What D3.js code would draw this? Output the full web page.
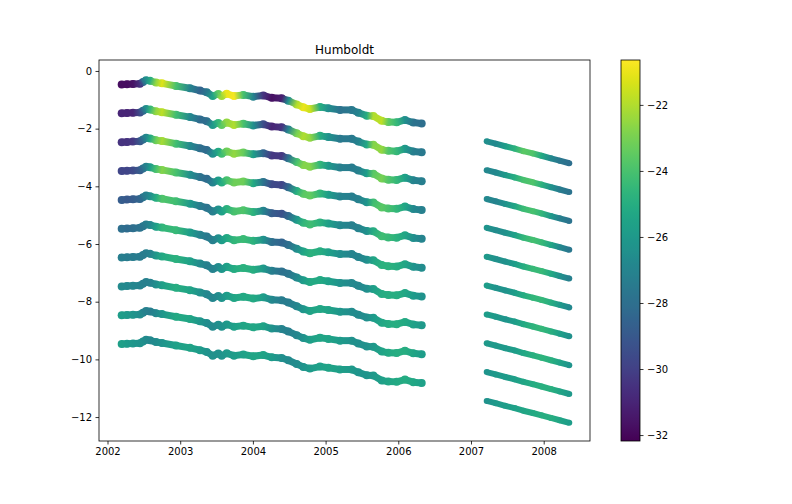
<!DOCTYPE html>
<html>
<head>
<meta charset="utf-8">
<script src="https://cdn.jsdelivr.net/npm/d3@7"></script>
<style>
  html, body { margin: 0; background: #fff; }
  svg { display: block; }
  text { font-family: "DejaVu Sans", sans-serif; fill: #000; }
</style>
</head>
<body>
<div id="chart"></div>
<script>
// first campaign, 2002-2006: shared time axis and the top row's depth trace
const yearsA = [2002.195,2002.268,2002.351,2002.447,2002.488,2002.530,2002.585,2002.667,2002.750,2002.942,
  2003.135,2003.272,2003.365,2003.447,2003.524,2003.571,2003.640,2003.740,2003.868,2004.006,
  2004.143,2004.259,2004.396,2004.487,2004.602,2004.693,2004.785,2004.923,2005.037,2005.198,
  2005.359,2005.450,2005.566,2005.657,2005.772,2005.863,2005.978,2006.092,2006.206,2006.322];
const depthA = [-0.47,-0.46,-0.45,-0.44,-0.38,-0.32,-0.34,-0.40,-0.43,-0.52,
  -0.60,-0.68,-0.74,-0.87,-0.80,-0.87,-0.79,-0.87,-0.83,-0.89,
  -0.85,-0.93,-0.95,-1.03,-1.16,-1.26,-1.32,-1.25,-1.29,-1.35,
  -1.35,-1.45,-1.55,-1.56,-1.73,-1.77,-1.78,-1.70,-1.79,-1.82];

// second campaign, 2007-2008
const yearsB = [2007.216,2007.340,2007.470,2007.600,2007.720,2007.850,2007.970,2008.100,2008.220,2008.352];
const depthB = [-2.44,-2.52,-2.61,-2.69,-2.78,-2.86,-2.94,-3.03,-3.11,-3.20];

// each row sits one unit below the previous one
const rowOffsets = [0,1,2,3,4,5,6,7,8,9];

// temperature along each row, top to bottom
const tempsA = [
  [-31.8,-31.8,-31.6,-30.5,-28,-26.5,-25,-22.5,-21.2,-24,-27,-28.5,-27.5,-25.5,-23.5,-22.3,-21,-20.8,-24,-27,-30.5,-31.7,-31.2,-26.5,-22,-21,-21.5,-25,-26.5,-27.8,-27.5,-27,-25,-22,-21.8,-23.5,-24.5,-26.5,-27.8,-28],
  [-31,-31,-31,-29.5,-28,-26.5,-24.5,-22.5,-21.8,-24.2,-26.8,-28.2,-28,-26,-24.5,-23.5,-22.5,-22,-24,-26.5,-29.5,-31,-30.5,-27,-23,-22,-22.5,-25,-26.3,-27.5,-27.5,-27,-25.3,-22.8,-22.5,-23.8,-24.5,-26,-27.3,-27.5],
  [-30.5,-30.5,-30.3,-29,-27.8,-26.8,-25.2,-23.2,-22.2,-24.2,-26.8,-28,-28.2,-26.5,-25.2,-24.2,-23.2,-22.5,-23.3,-25.8,-28.5,-30.3,-30.3,-27.8,-24,-22.8,-22.8,-24.6,-26,-27.2,-27.4,-27.2,-25.8,-23.6,-23,-23.8,-24.5,-25.6,-27,-27.3],
  [-29.8,-29.8,-29.6,-28.8,-27.8,-27,-25.8,-24,-22.8,-24,-26.5,-27.8,-28.2,-27,-25.8,-25,-24,-23.2,-23.2,-25.2,-27.8,-29.6,-29.8,-28.3,-25,-23.6,-23.4,-24.6,-25.8,-27,-27.3,-27.2,-26.2,-24.2,-23.6,-24,-24.6,-25.4,-26.8,-27.2],
  [-28.8,-29,-28.8,-28.4,-27.6,-27.2,-26.5,-25,-23.8,-24.2,-26,-27.4,-27.8,-27.2,-26.3,-25.6,-24.8,-24,-23.8,-24.8,-27,-28.8,-29.3,-28.3,-26,-24.6,-24.2,-24.8,-25.7,-26.8,-27.2,-27.1,-26.4,-25,-24.2,-24.4,-24.8,-25.4,-26.5,-27],
  [-28,-28.2,-28,-27.8,-27.6,-27.3,-26.8,-25.6,-24.6,-24.4,-25.8,-27,-27.5,-27.2,-26.5,-25.8,-25.2,-24.6,-24.3,-24.8,-26.4,-28,-28.5,-28,-26.6,-25.4,-24.8,-25,-25.6,-26.5,-27,-27,-26.5,-25.4,-24.8,-24.8,-25,-25.4,-26.2,-26.6],
  [-27.3,-27.4,-27.4,-27.4,-27.4,-27.3,-27,-26,-25.2,-24.8,-25.6,-26.7,-27.2,-27.1,-26.6,-26.1,-25.6,-25.1,-24.8,-25,-26,-27.3,-27.9,-27.7,-26.8,-25.8,-25.2,-25.2,-25.6,-26.3,-26.8,-26.9,-26.5,-25.7,-25.1,-25,-25,-25.3,-25.9,-26.3],
  [-26.7,-26.8,-26.9,-27,-27.2,-27.2,-27.1,-26.5,-25.7,-25,-25.5,-26.4,-26.9,-26.9,-26.6,-26.2,-25.8,-25.4,-25.2,-25.2,-25.8,-26.8,-27.4,-27.4,-26.9,-26.1,-25.5,-25.3,-25.5,-26.1,-26.6,-26.7,-26.5,-25.9,-25.3,-25.1,-25,-25.2,-25.6,-26],
  [-25.8,-26,-26.2,-26.6,-27,-27.2,-27.3,-26.8,-26.1,-25.2,-25.4,-26.1,-26.6,-26.7,-26.5,-26.3,-26,-25.6,-25.4,-25.3,-25.5,-26.3,-27,-27.2,-26.9,-26.3,-25.7,-25.4,-25.5,-25.9,-26.4,-26.5,-26.4,-26,-25.5,-25.2,-25,-25,-25.4,-25.8],
  [-25.7,-25.9,-26.1,-26.3,-26.5,-26.7,-26.8,-26.6,-26.2,-25.6,-25.5,-25.9,-26.3,-26.4,-26.4,-26.2,-26,-25.8,-25.6,-25.4,-25.5,-25.9,-26.5,-26.7,-26.6,-26.2,-25.9,-25.6,-25.5,-25.7,-26,-26.2,-26.2,-26,-25.7,-25.4,-25.2,-25.1,-25.3,-25.6]
];
const tempsB = [
  [-26.5,-26.8,-25.8,-24.8,-23.6,-23.8,-25.2,-26.8,-27.6,-28],
  [-26.8,-26.8,-26,-25,-24,-23.8,-24.8,-26.3,-27.4,-27.8],
  [-26.8,-27,-26.3,-25.4,-24.3,-24,-24.6,-26,-27.2,-27.8],
  [-26.2,-26.6,-26.4,-25.6,-24.6,-24.1,-24.4,-25.4,-26.8,-27.6],
  [-26,-26.4,-26.4,-25.8,-25,-24.4,-24.4,-25.2,-26.4,-27.2],
  [-25.8,-26.2,-26.3,-25.8,-25.1,-24.6,-24.5,-25,-26,-26.8],
  [-25.8,-26,-26.2,-25.8,-25.2,-24.7,-24.5,-24.9,-25.7,-26.4],
  [-26,-26,-26,-25.8,-25.3,-24.9,-24.7,-24.9,-25.5,-26.2],
  [-26.2,-26,-25.9,-25.7,-25.4,-25.1,-24.9,-24.9,-25.4,-26],
  [-26.3,-26,-25.8,-25.6,-25.4,-25.2,-25,-25,-25.4,-25.8]
];

const xTicks = [2002,2003,2004,2005,2006,2007,2008];
const yTicks = [0,-2,-4,-6,-8,-10,-12];
const cTicks = [-22,-24,-26,-28,-30,-32];
const xLimits = [2001.883, 2008.637];
const yLimits = [-12.83, 0.38];
const cLimits = [-32.18, -20.64];

const width = 792, height = 504;
const plot = { left: 99, right: 590, top: 60, bottom: 441 };
const bar = { left: 621, right: 640 };

const svg = d3.select('#chart').append('svg').attr('width', width).attr('height', height);
const defs = svg.append('defs');

const x = d3.scaleLinear().domain(xLimits).range([plot.left, plot.right]);
const y = d3.scaleLinear().domain(yLimits).range([plot.bottom, plot.top]);
const c = d3.scaleSequential(d3.interpolateViridis).domain(cLimits);
const cy = d3.scaleLinear().domain(cLimits).range([plot.bottom, plot.top]);

let gradId = 0;

// one row: dots on every sample, gradient segments laid over them so only the bumps show
function drawRow(g, years, depth, temps, offset, lineW, r){
  const pts = years.map((yr, i) => ({ px: x(yr), py: y(depth[i] - offset), t: temps[i] }));
  g.selectAll(null).data(pts).join('circle')
    .attr('cx', d => d.px).attr('cy', d => d.py).attr('r', r)
    .attr('fill', d => c(d.t));
  d3.pairs(pts).forEach(([a, b]) => {
    const id = 'seg' + (gradId++);
    const lg = defs.append('linearGradient').attr('id', id)
      .attr('gradientUnits', 'userSpaceOnUse')
      .attr('x1', a.px).attr('y1', a.py).attr('x2', b.px).attr('y2', b.py);
    lg.append('stop').attr('offset', 0).attr('stop-color', c(a.t));
    lg.append('stop').attr('offset', 1).attr('stop-color', c(b.t));
    g.append('line')
      .attr('x1', a.px).attr('y1', a.py).attr('x2', b.px).attr('y2', b.py)
      .attr('stroke', `url(#${id})`).attr('stroke-width', lineW);
  });
}

const marks = svg.append('g');
rowOffsets.forEach((off, i) => {
  drawRow(marks.append('g'), yearsA, depthA, tempsA[i], off, 7, 4);
  drawRow(marks.append('g'), yearsB, depthB, tempsB[i], off, 6, 3);
});

// axes
const xAxis = svg.append('g').attr('transform', `translate(0,${plot.bottom})`)
  .call(d3.axisBottom(x).tickValues(xTicks).tickFormat(d3.format('d')).tickSize(3.5).tickPadding(3.5));
const yAxis = svg.append('g').attr('transform', `translate(${plot.left},0)`)
  .call(d3.axisLeft(y).tickValues(yTicks).tickSize(3.5).tickPadding(3.5));
[xAxis, yAxis].forEach(a => {
  a.select('.domain').remove();
  a.selectAll('text').style('font-size', '10px').style('font-family', '"DejaVu Sans", sans-serif');
  a.selectAll('line').attr('stroke-width', 0.8);
});

svg.append('rect')
  .attr('x', plot.left).attr('y', plot.top)
  .attr('width', plot.right - plot.left).attr('height', plot.bottom - plot.top)
  .attr('fill', 'none').attr('stroke', '#000').attr('stroke-width', 0.8);

svg.append('text')
  .attr('x', (plot.left + plot.right) / 2).attr('y', 54)
  .attr('text-anchor', 'middle').style('font-size', '12px')
  .text('Humboldt');

// colour bar
const cbGrad = defs.append('linearGradient').attr('id', 'cbar')
  .attr('x1', 0).attr('y1', 1).attr('x2', 0).attr('y2', 0);
d3.range(0, 1.001, 0.02).forEach(s => {
  cbGrad.append('stop').attr('offset', s).attr('stop-color', d3.interpolateViridis(s));
});
svg.append('rect')
  .attr('x', bar.left).attr('y', plot.top)
  .attr('width', bar.right - bar.left).attr('height', plot.bottom - plot.top)
  .attr('fill', 'url(#cbar)').attr('stroke', '#000').attr('stroke-width', 0.8);

const cAxis = svg.append('g').attr('transform', `translate(${bar.right},0)`)
  .call(d3.axisRight(cy).tickValues(cTicks).tickSize(3.5).tickPadding(3.5));
cAxis.select('.domain').remove();
cAxis.selectAll('text').style('font-size', '10px').style('font-family', '"DejaVu Sans", sans-serif');
cAxis.selectAll('line').attr('stroke-width', 0.8);
</script>
</body>
</html>
